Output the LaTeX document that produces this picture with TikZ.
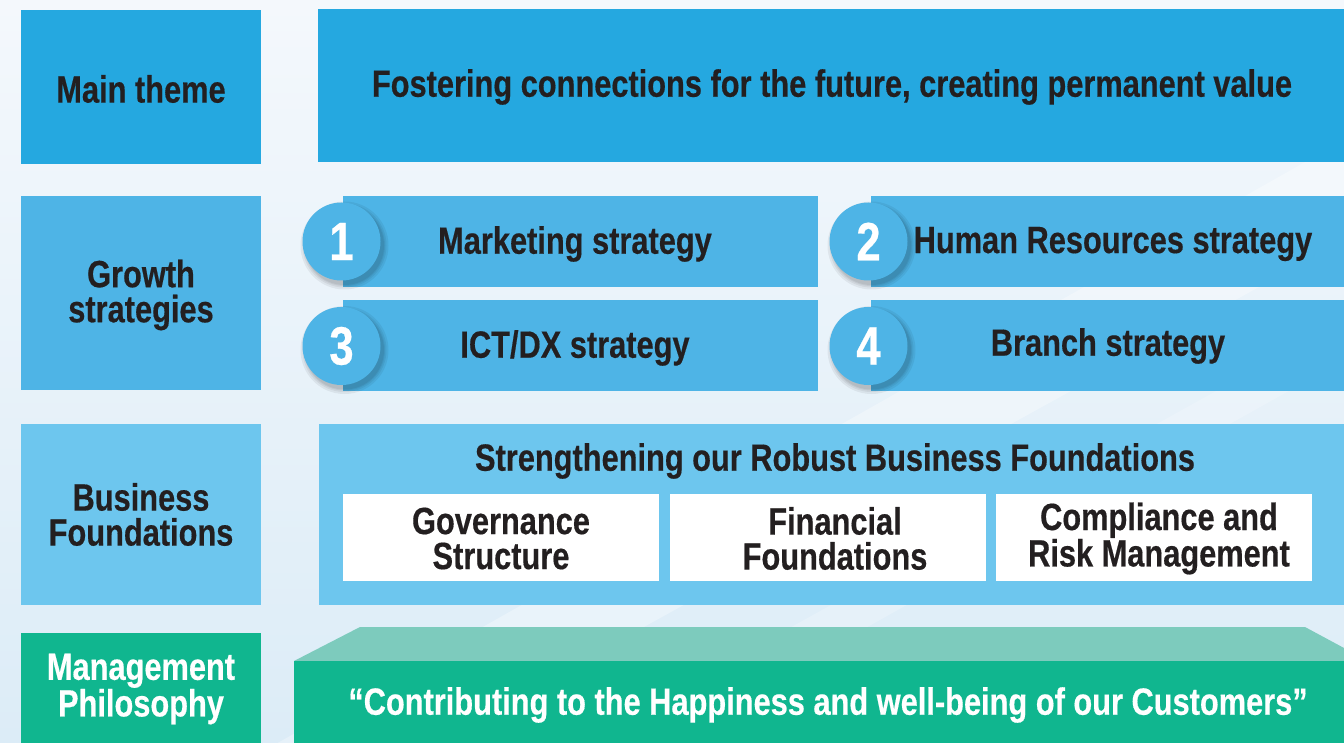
\documentclass[tikz,border=0pt]{standalone}
\usepackage{fontspec}
\setmainfont{Liberation Sans}[FakeStretch=0.81, BoldFeatures={FakeBold=0.4}]
\definecolor{bgTop}{HTML}{F4F8FC}
\definecolor{bgBot}{HTML}{DCECF7}
\definecolor{themeblue}{HTML}{25A8E0}
\definecolor{growblue}{HTML}{4EB4E6}
\definecolor{foundblue}{HTML}{6DC6EE}
\definecolor{philgreen}{HTML}{10B68F}
\definecolor{phillight}{HTML}{7DCBBD}
\definecolor{inkdark}{HTML}{231F20}
\tikzset{
  panel/.style={anchor=north west, inner sep=0pt, outer sep=0pt, draw=none, align=center,
    text=inkdark, font=\bfseries\fontsize{38}{35}\selectfont},
  whitebox/.style={panel, fill=white, minimum width=316pt, minimum height=87pt},
  numcircle/.style={circle, fill=growblue, minimum size=78pt, inner sep=0pt, text=white,
    font=\bfseries\fontsize{54}{54}\selectfont},
  lbl/.style={inner sep=0pt, text=inkdark, align=center, font=\bfseries\fontsize{38}{35}\selectfont}
}
\begin{document}
\begin{tikzpicture}[x=1pt,y=-1pt]
\useasboundingbox (0,0) rectangle (1344,743);
\shade[top color=bgTop, bottom color=bgBot] (0,0) rectangle (1344,743);
% faint diagonal light streaks
\fill[white, opacity=0.3] (0,900) -- (1344,140) -- (1344,240) -- (150,900) -- cycle;
\fill[white, opacity=0.2] (300,900) -- (1344,320) -- (1344,360) -- (380,900) -- cycle;

% left column
\node[panel, fill=themeblue, minimum width=240pt, minimum height=154pt] (lmain) at (21,10) {};
\node[lbl] at ([yshift=-2pt]lmain.center) {Main theme};
\node[panel, fill=growblue, minimum width=240pt, minimum height=194pt] (lgrow) at (21,196) {};
\node[lbl] at ([yshift=-2pt]lgrow.center) {Growth\\strategies};
\node[panel, fill=foundblue, minimum width=240pt, minimum height=181pt] (lfound) at (21,424) {};
\node[lbl] at ([yshift=0pt]lfound.center) {Business\\Foundations};
\node[panel, fill=philgreen, minimum width=240pt, minimum height=110pt] (lphil) at (21,633) {};
\node[lbl, text=white] at ([yshift=-1pt]lphil.center) {Management\\Philosophy};

% main theme
\node[panel, fill=themeblue, minimum width=1026pt, minimum height=153pt] (theme) at (318,9) {};
\node[lbl] at (832,87) {Fostering connections for the future, creating permanent value};

% growth strategies
\node[panel, fill=growblue, minimum width=475pt, minimum height=91pt] (g1) at (343,196) {};
\node[panel, fill=growblue, minimum width=473pt, minimum height=91pt] (g2) at (871,196) {};
\node[panel, fill=growblue, minimum width=475pt, minimum height=91pt] (g3) at (343,300) {};
\node[panel, fill=growblue, minimum width=473pt, minimum height=91pt] (g4) at (871,300) {};
% soft shadows of the number discs
\foreach \cx/\cy in {341.5/241.5, 868.5/241.5, 341.5/346, 868.5/346}{
  \foreach \r in {44,42,40.5,39.5}{
    \fill[black, opacity=0.06] (\cx+3,\cy+4) circle (\r);
  }
}
\node[numcircle] (c1) at (341.5,241.5) {1};
\node[numcircle] (c2) at (868.5,241.5) {2};
\node[numcircle] (c3) at (341.5,346) {3};
\node[numcircle] (c4) at (868.5,346) {4};
\node[lbl] (t1) at (575,244) {Marketing strategy};
\node[lbl] (t2) at (1113,244) {Human Resources strategy};
\node[lbl] (t3) at (575,348) {ICT/DX strategy};
\node[lbl] (t4) at (1108,346) {Branch strategy};

% business foundations
\node[panel, fill=foundblue, minimum width=1025pt, minimum height=181pt] (found) at (319,424) {};
\node[lbl] (ftitle) at (835,461) {Strengthening our Robust Business Foundations};
\node[whitebox] (w1) at (343,494) {};
\node[whitebox] (w2) at (670,494) {};
\node[whitebox] (w3) at (996,494) {};
\node[lbl] at ([yshift=-1pt]w1.center) {Governance\\Structure};
\node[lbl] at ([xshift=7pt,yshift=-1pt]w2.center) {Financial\\Foundations};
\node[lbl] at ([xshift=5pt,yshift=-1pt]w3.center) {Compliance and\\Risk Management};

% management philosophy platform
\fill[phillight] (294,661) -- (360,627) -- (1305,627) -- (1344,648) -- (1344,661) -- cycle;
\node[panel, fill=philgreen, minimum width=1050pt, minimum height=82pt] (phil) at (294,661) {};
\node[lbl, text=white] (ptext) at (828,705) {“Contributing to the Happiness and well-being of our Customers”};
\end{tikzpicture}
\end{document}
